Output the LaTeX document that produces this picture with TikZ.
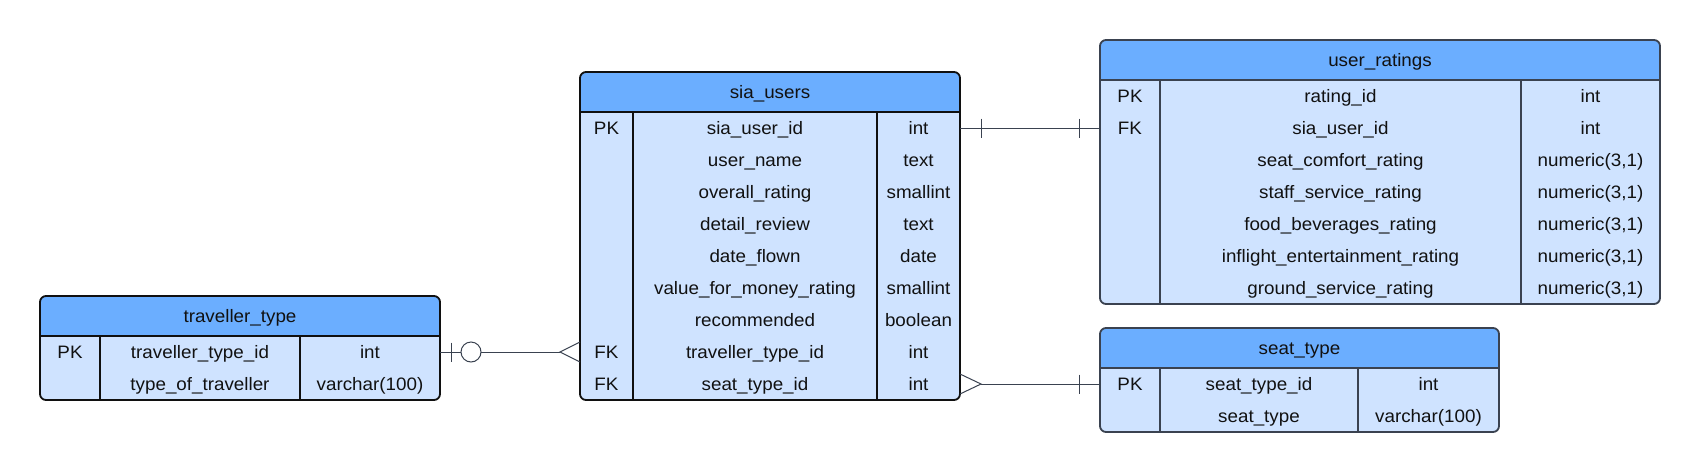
\documentclass[tikz,border=0pt]{standalone}
\usepackage{fontspec}
\setmainfont{Liberation Sans}[FakeStretch=1.045]
\usetikzlibrary{calc}
\definecolor{headc}{HTML}{6BAEFF}
\definecolor{bodyc}{HTML}{CFE3FF}
\definecolor{bdark}{HTML}{101010}
\definecolor{bgray}{HTML}{3A4250}
\definecolor{linkc}{HTML}{3A4250}
\definecolor{txtc}{HTML}{111111}
\tikzset{
  txt/.style={font=\fontsize{18}{21}\selectfont, text=txtc, inner sep=0pt, anchor=base},
  linkline/.style={draw=linkc, line width=1pt},
}
% table: name, x1, x2, ytop, nrows, d1, d2, bordercolor, title
\newcommand\erdtable[9]{%
  \pgfmathsetmacro\erdh{40+32*#5}%
  \pgfmathsetmacro\erdw{#3-#2}%
  \node[draw=none, inner sep=0pt, outer sep=0pt, anchor=north west,
        minimum width=\erdw pt, minimum height=\erdh pt] (#1) at (#2,#4) {};
  \begin{scope}
    \clip[rounded corners=6pt] (#1.north west) rectangle (#1.south east);
    \fill[bodyc] (#1.north west) rectangle (#1.south east);
    \fill[headc] (#1.north west) rectangle ([yshift=-40pt]#1.north east);
  \end{scope}
  \draw[#8, line width=1.6pt] ([yshift=-40pt]#1.north west) -- ([yshift=-40pt]#1.north east);
  \draw[#8, line width=1.6pt] ([yshift=-40pt]#1.north west -| #6,0) -- (#1.south west -| #6,0);
  \draw[#8, line width=1.6pt] ([yshift=-40pt]#1.north west -| #7,0) -- (#1.south west -| #7,0);
  \draw[#8, line width=1.8pt, rounded corners=6pt] (#1.north west) rectangle (#1.south east);
  \node[txt] (#1-title) at ($(#1.north)+(0,-26.5pt)$) {#9};
}
% row: table, index, kx, fx, tx, key, field, type
\newcommand\erow[8]{%
  \pgfmathsetmacro\erdy{40+16+32*(#2-1)+6.5}%
  \node[txt] (#1-k#2) at ($(#1.north west -| #3,0)+(0,-\erdy pt)$) {#6};
  \node[txt] (#1-f#2) at ($(#1.north west -| #4,0)+(0,-\erdy pt)$) {#7};
  \node[txt] (#1-t#2) at ($(#1.north west -| #5,0)+(0,-\erdy pt)$) {#8};
}
\begin{document}
\begin{tikzpicture}[x=1pt,y=-1pt]
\fill[white] (0,0) rectangle (1700,472);
\useasboundingbox (0,0) rectangle (1700,472);

% traveller_type
\erdtable{tt}{40}{440}{296}{2}{100}{300}{bdark}{traveller\_type}
\erow{tt}{1}{70}{200}{370}{PK}{traveller\_type\_id}{int}
\erow{tt}{2}{70}{200}{370}{}{type\_of\_traveller}{varchar(100)}

% sia_users
\erdtable{sia}{580}{960}{72}{9}{633}{877}{bdark}{sia\_users}
\erow{sia}{1}{606.5}{755}{918.5}{PK}{sia\_user\_id}{int}
\erow{sia}{2}{606.5}{755}{918.5}{}{user\_name}{text}
\erow{sia}{3}{606.5}{755}{918.5}{}{overall\_rating}{smallint}
\erow{sia}{4}{606.5}{755}{918.5}{}{detail\_review}{text}
\erow{sia}{5}{606.5}{755}{918.5}{}{date\_flown}{date}
\erow{sia}{6}{606.5}{755}{918.5}{}{value\_for\_money\_rating}{smallint}
\erow{sia}{7}{606.5}{755}{918.5}{}{recommended}{boolean}
\erow{sia}{8}{606.5}{755}{918.5}{FK}{traveller\_type\_id}{int}
\erow{sia}{9}{606.5}{755}{918.5}{FK}{seat\_type\_id}{int}

% user_ratings
\erdtable{ur}{1100}{1660}{40}{7}{1160}{1521}{bgray}{user\_ratings}
\erow{ur}{1}{1130}{1340.5}{1590.5}{PK}{rating\_id}{int}
\erow{ur}{2}{1130}{1340.5}{1590.5}{FK}{sia\_user\_id}{int}
\erow{ur}{3}{1130}{1340.5}{1590.5}{}{seat\_comfort\_rating}{numeric(3,1)}
\erow{ur}{4}{1130}{1340.5}{1590.5}{}{staff\_service\_rating}{numeric(3,1)}
\erow{ur}{5}{1130}{1340.5}{1590.5}{}{food\_beverages\_rating}{numeric(3,1)}
\erow{ur}{6}{1130}{1340.5}{1590.5}{}{inflight\_entertainment\_rating}{numeric(3,1)}
\erow{ur}{7}{1130}{1340.5}{1590.5}{}{ground\_service\_rating}{numeric(3,1)}

% seat_type
\erdtable{st}{1100}{1499}{328}{2}{1160}{1358}{bgray}{seat\_type}
\erow{st}{1}{1130}{1259}{1428.5}{PK}{seat\_type\_id}{int}
\erow{st}{2}{1130}{1259}{1428.5}{}{seat\_type}{varchar(100)}

% connector end points
\coordinate (a1) at ([yshift=-56pt]sia.north east);
\coordinate (b1) at ([yshift=-88pt]ur.north west);
\coordinate (a2) at ([yshift=-56pt]tt.north east);
\coordinate (b2) at ([yshift=-280pt]sia.north west);
\coordinate (a3) at ([yshift=-312pt]sia.north east);
\coordinate (b3) at ([yshift=-56pt]st.north west);

% sia_users (1) -- (1) user_ratings
\draw[linkline] (a1) -- (b1);
\draw[linkline] ([xshift=21pt,yshift=9.5pt]a1) -- ([xshift=21pt,yshift=-9.5pt]a1);
\draw[linkline] ([xshift=-21pt,yshift=9.5pt]b1) -- ([xshift=-21pt,yshift=-9.5pt]b1);

% traveller_type (0..1) -- (many) sia_users
\draw[linkline] ([xshift=41pt]a2) -- ([xshift=-20pt]b2);
\draw[linkline] (a2) -- ([xshift=21pt]a2);
\draw[linkline] ([xshift=11pt,yshift=9.5pt]a2) -- ([xshift=11pt,yshift=-9.5pt]a2);
\draw[linkline] ([xshift=31pt]a2) circle[radius=10pt];
\draw[linkline] ([yshift=10pt]b2) -- ([xshift=-20pt]b2) -- ([yshift=-10pt]b2);

% sia_users (many) -- (1) seat_type
\draw[linkline] ([xshift=21pt]a3) -- (b3);
\draw[linkline] ([yshift=10pt]a3) -- ([xshift=21pt]a3) -- ([yshift=-10pt]a3);
\draw[linkline] ([xshift=-21pt,yshift=9.5pt]b3) -- ([xshift=-21pt,yshift=-9.5pt]b3);
\end{tikzpicture}
\end{document}
